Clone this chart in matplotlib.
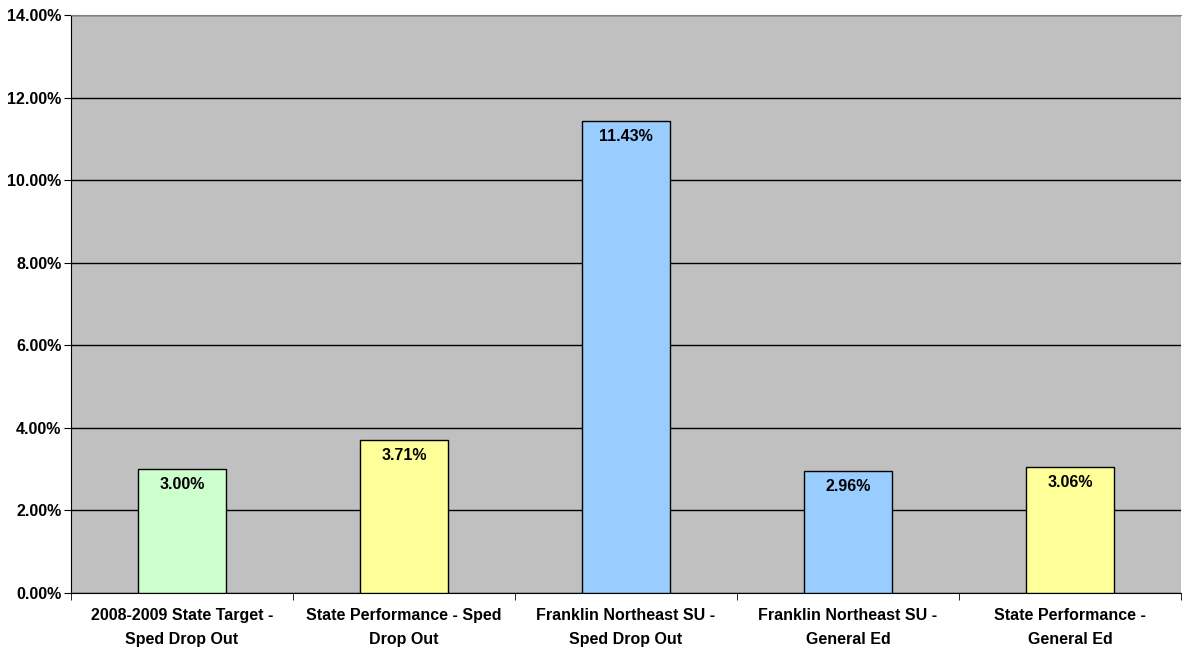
import numpy as np
import matplotlib
matplotlib.use('Agg')
import matplotlib.pyplot as plt
from matplotlib.ticker import FuncFormatter

plt.rcParams['font.family'] = ['Liberation Sans', 'DejaVu Sans']

# data
categories = ['2008-2009 State Target -\nSped Drop Out',
              'State Performance - Sped\nDrop Out',
              'Franklin Northeast SU -\nSped Drop Out',
              'Franklin Northeast SU -\nGeneral Ed',
              'State Performance -\nGeneral Ed']
values = [3.00, 3.71, 11.43, 2.96, 3.06]
colors = ['#CCFFCC', '#FFFF99', '#99CCFF', '#99CCFF', '#FFFF99']

fs = 11.5

fig = plt.figure(figsize=(11.82, 6.5), dpi=100)
ax = fig.add_axes([71/1182, 57/650, 1110/1182, 578/650])
ax.set_facecolor('#C0C0C0')

x = np.arange(len(values))
ax.bar(x, values, width=0.4, color=colors, edgecolor='black', linewidth=1, zorder=3)

for xi, v in zip(x, values):
    ax.text(xi, v - 0.2, '%.2f%%' % v, ha='center', va='top',
            fontsize=fs, fontweight='bold', zorder=4)

ax.set_xlim(-0.5, len(values) - 0.5)
ax.set_ylim(0, 14)
ax.set_yticks(np.arange(0, 14.1, 2))
ax.yaxis.set_major_formatter(FuncFormatter(lambda v, p: '%.2f%%' % v))
ax.grid(axis='y', color='black', linewidth=1, zorder=1)

ax.set_xticks(x)
ax.set_xticklabels(categories, fontsize=fs, fontweight='bold', linespacing=1.75)
ax.set_xticks(np.arange(-0.5, len(values)), minor=True)
ax.tick_params(axis='x', which='major', length=0, pad=11)
ax.tick_params(axis='x', which='minor', length=5, direction='out')
ax.tick_params(axis='y', length=5, direction='out', pad=2)
for lbl in ax.get_yticklabels():
    lbl.set_fontweight('bold')
    lbl.set_fontsize(fs)

ax.spines['top'].set_color('#808080')
ax.spines['right'].set_visible(False)
ax.spines['left'].set_color('black')
ax.spines['bottom'].set_color('black')

plt.savefig('out.png', dpi=100)
